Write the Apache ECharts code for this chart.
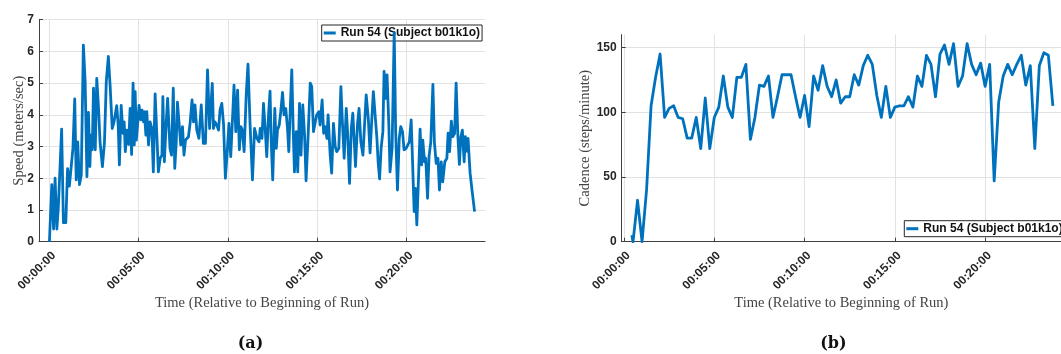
<!DOCTYPE html>
<html><head><meta charset="utf-8">
<script src="https://cdn.jsdelivr.net/npm/echarts@6/dist/echarts.min.js"></script>
<style>html,body{margin:0;padding:0;background:#fff}#c{width:1061px;height:354px}</style>
</head><body><div id="c"></div>
<script>
// ---- data (seconds since start of run) ----
const speedTimes = [0,8,14,19,25,30,36,41,47,55,61,67,72,79,85,90,95,101,107,114,120,126,131,136,139,144,148,154,159,165,170,178,185,191,198,204,211,217,226,231,235,241,247,251,255,260,266,271,276,281,285,288,292,297,301,307,311,316,319,324,327,333,
338,344,349,355,361,366,372,378,381,386,392,397,401,405,410,416,421,426,430,436,441,447,452,457,461,467,473,479,484,489,495,502,510,517,524,531,538,542,547,551,556,562,568,573,579,585,591,598,603,609,614,620,626,632,638,643,648,654,661,667,674,682,689,697,704,
708,714,719,725,730,736,741,745,750,757,762,766,772,777,783,788,794,800,804,809,814,819,823,829,834,840,845,851,857,862,869,876,881,887,893,898,905,909,916,921,926,932,936,943,948,954,960,965,972,979,984,990,997,1002,1008,1014,1019,1024,1028,1035,1040,1046,1053,1059,1064,1071,1077,
1083,1088,1094,1100,1104,1109,1114,1120,1124,1130,1134,1140,1144,1151,1158,1163,1169,1175,1180,1186,1191,1198,1204,1209,1215,1219,1225,1229,1234,1240,1245,1250,1254,1260,1264,1270,1275,1281,1288,1293,1299,1305,1310,1316,1321,1328,1335,1339,1344,1350,1355,1361,1366,1372,1377,1382,1387,1393,1397,1402,1406,1413,1420,1428];
const speedValues = [0,1.8,0.4,2.0,0.4,1.1,1.15,3.55,0.6,0.6,2.3,1.75,1.8,2.95,4.5,1.95,3.15,1.8,2.1,6.2,5.05,2.05,4.08,2.37,3.36,2.9,4.84,2.9,5.15,4.2,3.15,2.37,3.15,5.05,5.84,4.9,3.57,3.78,4.29,3.68,2.42,4.3,3.42,3.78,2.84,3.52,3.07,4.2,2.75,5.0,3.05,4.73,3.2,3.78,4.3,3.84,4.15,3.78,4.1,3.36,4.1,3.05,
3.78,3.57,2.2,4.66,4.63,2.2,2.63,2.73,4.57,2.52,3.68,4.52,4.57,2.94,2.73,4.84,2.31,3.15,4.4,3.68,3.05,3.63,2.73,3.2,3.2,3.31,3.78,4.47,3.78,4.31,3.52,3.26,4.31,3.1,3.1,5.42,3.57,3.52,4.99,3.57,3.78,3.68,3.52,4.15,4.36,3.68,2.0,2.94,3.73,2.68,3.68,4.94,3.47,4.78,2.9,3.63,3.52,2.84,4.63,5.6,3.68,1.95,3.57,3.26,3.15,
3.57,3.26,4.36,3.52,2.68,4.0,4.75,3.15,1.95,4.2,2.94,3.52,3.68,4.1,4.71,4.0,4.2,3.52,2.84,4.2,5.42,3.47,2.2,3.47,2.2,4.36,2.73,4.31,3.36,1.92,3.36,5.0,4.89,3.47,3.78,4.0,4.1,3.68,4.47,3.42,3.63,3.26,4.0,2.73,2.16,3.73,3.0,2.84,2.94,4.89,3.78,2.63,4.2,3.36,1.84,3.57,4.05,3.15,2.37,3.73,4.2,3.15,2.73,3.78,4.63,3.89,2.8,
3.89,4.73,4.78,3.26,2.52,1.98,2.94,3.47,5.37,4.52,5.26,3.68,2.2,2.94,6.6,3.47,1.63,3.26,3.63,3.47,2.9,2.94,2.94,3.15,3.84,2.73,0.95,1.68,0.53,2.1,3.55,2.42,3.2,2.52,2.63,1.37,2.68,3.15,4.96,3.15,2.47,2.63,1.63,2.52,1.89,2.52,2.63,3.42,2.84,3.8,3.31,3.42,5.0,3.31,2.44,3.31,3.52,2.52,3.31,2.86,3.26,2.16,1.58,0.95];

const cadenceTimes = [26,30,45,60,75,90,105,120,135,150,165,180,195,210,225,240,255,270,285,300,315,330,345,360,375,390,405,420,435,450,465,480,495,510,525,540,555,570,585,600,615,630,645,660,675,690,705,720,735,750,765,780,795,810,825,840,855,870,885,900,915,930,945,960,975,990,1005,1020,1035,1050,1065,1080,1095,1110,1125,1140,1155,1170,1185,1200,1215,1230,1245,1260,1275,1290,1305,1320,1335,1350,1365,1380,1395,1410,1425];
const cadenceValues = [5,0,32,0,40,105,127,145,96,103,105,96,95,80,80,96,72,111,72,96,104,128,104,96,127,127,137,79,96,121,120,128,96,112,129,129,129,112,96,113,89,128,117,136,120,112,125,107,112,112,129,121,136,144,137,113,96,120,96,104,105,105,112,104,128,120,144,137,112,145,152,137,153,120,128,153,137,129,138,120,137,47,108,128,137,129,137,144,121,136,72,136,146,144,105];

const timeTicks = [0,300,600,900,1200];
const timeTickLabels = ['00:00:00','00:05:00','00:10:00','00:15:00','00:20:00'];
const cadenceTicks = [0,50,100,150];
const seriesName = 'Run 54 (Subject b01k1o)';
const xAxisTitle = 'Time (Relative to Beginning of Run)';
const speedTitle = 'Speed (meters/sec)';
const cadenceTitle = 'Cadence (steps/minute)';
const captions = ['(a)','(b)'];

// ---- chart ----
const blue = '#0072BD';
const axisColor = '#404040';
const gridColor = '#e2e2e2';
const tickFont = {fontFamily:'Liberation Sans, Arial, sans-serif', fontWeight:'bold', fontSize:12, color:'#262626'};
const nameFont = {fontFamily:'Liberation Serif, serif', fontSize:14.5, color:'#444'};
const labelShiftPx = 4.5; // rotated labels sit slightly right of their tick

function xAxisDef(gi, min, max, plotWidth){
  const shift = labelShiftPx * (max - min) / plotWidth;
  return {
    type:'value', gridIndex:gi, min:min, max:max,
    axisLine:{show:true, onZero:false, lineStyle:{color:axisColor, width:1}},
    axisTick:{show:true, inside:true, length:4, customValues:timeTicks, lineStyle:{color:axisColor}},
    axisLabel:Object.assign({customValues:timeTicks.map(t => t + shift), rotate:45, margin:12,
      formatter:v => timeTickLabels[Math.round((v - shift) / 300)] || ''}, tickFont),
    splitLine:{show:true, lineStyle:{color:gridColor, width:1}},
    name:xAxisTitle, nameLocation:'middle', nameGap:54, nameMoveOverlap:false, nameTextStyle:nameFont
  };
}

const legendDef = (left, top) => ({
  data:[seriesName], left:left, top:top, icon:'rect', itemWidth:12, itemHeight:3, padding:[1,2,1,2],
  borderColor:'#262626', borderWidth:1, borderRadius:0, backgroundColor:'#fff', z:1,
  textStyle:{fontFamily:'Liberation Sans, Arial, sans-serif', fontWeight:'bold', fontSize:12, color:'#111', lineHeight:14}
});

const option = {
  animation:false,
  backgroundColor:'#fff',
  grid:[
    {left:39, top:19.7, width:446, height:222},
    {left:621.7, top:34.6, width:444.3, height:207.1}
  ],
  xAxis:[ xAxisDef(0, -35, 1463, 446), xAxisDef(1, -7.6, 1452, 444.3) ],
  yAxis:[
    {type:'value', gridIndex:0, min:0, max:7, interval:1,
     axisLine:{show:true, onZero:false, lineStyle:{color:axisColor}},
     axisTick:{show:true, inside:true, length:4, lineStyle:{color:axisColor}},
     axisLabel:Object.assign({margin:5}, tickFont),
     splitLine:{show:true, lineStyle:{color:gridColor}},
     name:speedTitle, nameLocation:'middle', nameGap:12, nameMoveOverlap:false, nameTextStyle:nameFont},
    {type:'value', gridIndex:1, min:0, max:160,
     axisLine:{show:true, onZero:false, lineStyle:{color:axisColor}},
     axisTick:{show:true, inside:true, length:4, customValues:cadenceTicks, lineStyle:{color:axisColor}},
     axisLabel:Object.assign({margin:5, customValues:cadenceTicks}, tickFont),
     splitLine:{show:true, lineStyle:{color:gridColor}},
     name:cadenceTitle, nameLocation:'middle', nameGap:29, nameMoveOverlap:false, nameTextStyle:nameFont}
  ],
  legend:[ legendDef(321.7, 25), legendDef(904.3, 220.7) ],
  series:[
    {type:'line', name:seriesName, xAxisIndex:0, yAxisIndex:0, z:5, symbol:'none',
     data:speedTimes.map((t,i)=>[t, speedValues[i]]),
     lineStyle:{color:blue, width:2.8, join:'round'}, itemStyle:{color:blue}},
    {type:'line', name:seriesName, xAxisIndex:1, yAxisIndex:1, z:5, symbol:'none',
     data:cadenceTimes.map((t,i)=>[t, cadenceValues[i]]),
     lineStyle:{color:blue, width:2.8, join:'round'}, itemStyle:{color:blue}}
  ],
  graphic:[
    {type:'text', x:250.5, y:344, style:{text:captions[0], font:'bold 16px "DejaVu Serif", serif', fill:'#111', align:'center', verticalAlign:'middle'}},
    {type:'text', x:833.3, y:344, style:{text:captions[1], font:'bold 16px "DejaVu Serif", serif', fill:'#111', align:'center', verticalAlign:'middle'}}
  ]
};
const chart = echarts.init(document.getElementById('c'), null, {renderer:'canvas'});
chart.setOption(option);
</script>
</body></html>
